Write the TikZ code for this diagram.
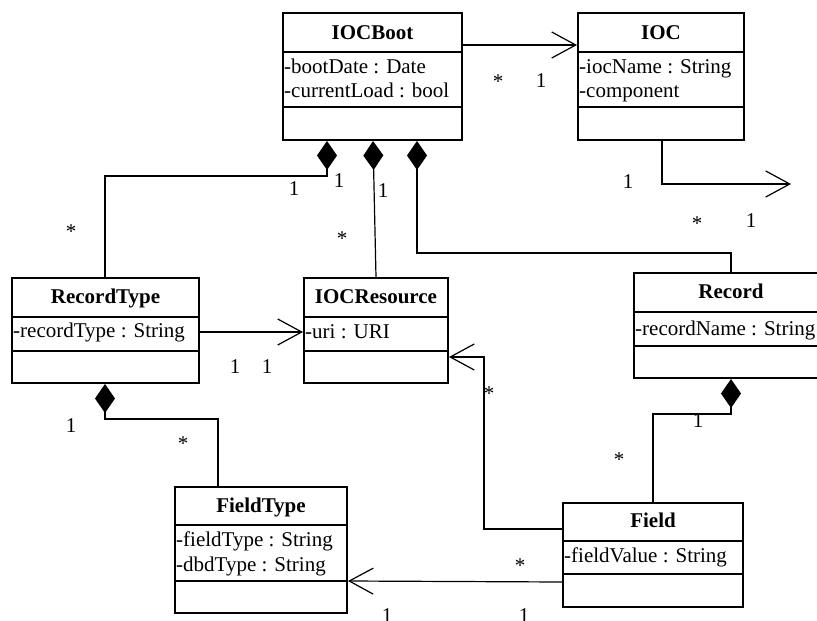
\documentclass[tikz,border=0pt]{standalone}
\usepackage{fontspec}
\setmainfont{Liberation Serif}
\usetikzlibrary{arrows.meta,fit}

\tikzset{
  classbox/.style={draw, line width=2pt, inner sep=0pt},
  sepline/.style={line width=2pt},
  classname/.style={font=\fontsize{21}{25}\selectfont\bfseries, inner sep=0pt, anchor=base},
  attr/.style={font=\fontsize{21}{25}\selectfont, inner sep=0pt, anchor=base west},
  mult/.style={font=\fontsize{21}{25}\selectfont, inner sep=0pt, anchor=base},
  assoc/.style={line width=1.2pt, line join=miter, -{Straight Barb[length=24pt,width=26pt]}},
  comp/.style={line width=1.2pt, {Diamond[length=29pt,width=20pt]}-},
}

\begin{document}
\begin{tikzpicture}[x=1pt, y=-1pt]
  \path[clip] (0,0) rectangle (817,621);
  \fill[white] (0,0) rectangle (817,621);

  % IOCBoot
  \node[classbox, fit={(283,13) (462,140)}] (boot) {};
  \draw[sepline] (283,52) -- (462,52);
  \draw[sepline] (283,107) -- (462,107);
  \node[classname] (boot-name) at (372.5,39) {IOCBoot};
  \node[attr] (boot-a1) at (284,73) {-bootDate : Date};
  \node[attr] (boot-a2) at (284,97) {-currentLoad : bool};

  % IOC
  \node[classbox, fit={(578,13) (744,140)}] (ioc) {};
  \draw[sepline] (578,52) -- (744,52);
  \draw[sepline] (578,107) -- (744,107);
  \node[classname] (ioc-name) at (661,39) {IOC};
  \node[attr] (ioc-a1) at (579,73) {-iocName : String};
  \node[attr] (ioc-a2) at (579,97) {-component};

  % RecordType
  \node[classbox, fit={(12,278) (199,383)}] (rectype) {};
  \draw[sepline] (12,317) -- (199,317);
  \draw[sepline] (12,351) -- (199,351);
  \node[classname] (rectype-name) at (105.5,303) {RecordType};
  \node[attr] (rectype-a1) at (13,337) {-recordType : String};

  % IOCResource
  \node[classbox, fit={(304,278) (448,383)}] (iocres) {};
  \draw[sepline] (304,317) -- (448,317);
  \draw[sepline] (304,351) -- (448,351);
  \node[classname] (iocres-name) at (376,303) {IOCResource};
  \node[attr] (iocres-a1) at (305,338) {-uri : URI};

  % Record
  \node[classbox, fit={(634,273) (828,378)}] (record) {};
  \draw[sepline] (634,312) -- (828,312);
  \draw[sepline] (634,346) -- (828,346);
  \node[classname] (record-name) at (731,298) {Record};
  \node[attr] (record-a1) at (635,335) {-recordName : String};

  % FieldType
  \node[classbox, fit={(175,487) (347,613)}] (fieldtype) {};
  \draw[sepline] (175,525) -- (347,525);
  \draw[sepline] (175,581) -- (347,581);
  \node[classname] (fieldtype-name) at (261,512) {FieldType};
  \node[attr] (fieldtype-a1) at (176,546) {-fieldType : String};
  \node[attr] (fieldtype-a2) at (176,571) {-dbdType : String};

  % Field
  \node[classbox, fit={(563,503) (743,607)}] (field) {};
  \draw[sepline] (563,541) -- (743,541);
  \draw[sepline] (563,574) -- (743,574);
  \node[classname] (field-name) at (653,527) {Field};
  \node[attr] (field-a1) at (564,562) {-fieldValue : String};

  % associations
  \coordinate (iocend) at (791,184);
  \draw[assoc] (boot.east |- 0,45) -- (ioc.west |- 0,45);
  \draw[assoc] (ioc.south -| 662,0) |- (iocend);
  \draw[assoc] (rectype.east |- 0,332) -- (iocres.west |- 0,332);
  \draw[assoc] (field.west |- 0,529) -| (484,357) -- (iocres.east |- 0,357);
  \draw[assoc] (field.west |- 0,582) -- (fieldtype.east |- 0,581);

  % compositions
  \draw[comp] (boot.south -| 327,0) -- (327,176) -| (rectype.north -| 105,0);
  \draw[comp] (boot.south -| 373,0) -- (iocres.north -| 376,0);
  \draw[comp] (boot.south -| 417,0) |- (record.north |- 0,253) -- (record.north);
  \draw[comp] (rectype.south -| 105,0) |- (218,419) -- (fieldtype.north -| 218,0);
  \draw[comp] (record.south) |- (653,414) -- (field.north);

  % multiplicities
  \node[mult] (m1) at (498,88) {*};
  \node[mult] (m2) at (541,87) {1};
  \node[mult] (m3) at (628,188) {1};
  \node[mult] (m4) at (697,230) {*};
  \node[mult] (m5) at (751,227) {1};
  \node[mult] (m6) at (294,195) {1};
  \node[mult] (m7) at (339,187) {1};
  \node[mult] (m8) at (71,238) {*};
  \node[mult] (m9) at (383,197) {1};
  \node[mult] (m10) at (342,245) {*};
  \node[mult] (m11) at (235,373) {1};
  \node[mult] (m12) at (267,373) {1};
  \node[mult] (m13) at (71,432) {1};
  \node[mult] (m14) at (183,450) {*};
  \node[mult] (m15) at (698,427) {1};
  \node[mult] (m16) at (619,466) {*};
  \node[mult] (m17) at (489,400) {*};
  \node[mult] (m18) at (520,572) {*};
  \node[mult] (m19) at (387,622) {1};
  \node[mult] (m20) at (524,622) {1};
\end{tikzpicture}
\end{document}
